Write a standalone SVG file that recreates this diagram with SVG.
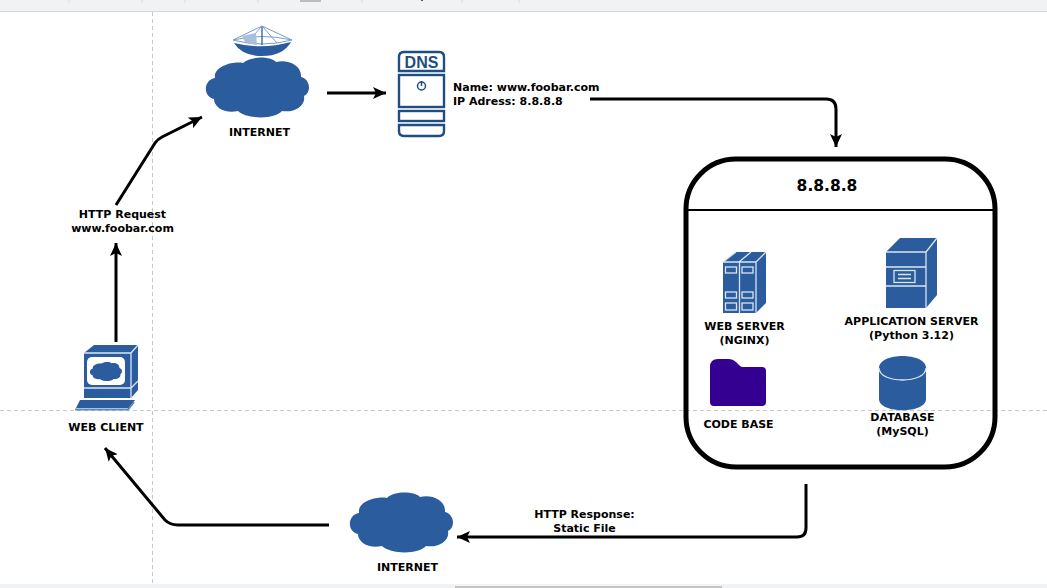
<svg xmlns="http://www.w3.org/2000/svg" width="1047" height="588" viewBox="0 0 1047 588">
<style>
text{font-family:"DejaVu Sans",Verdana,sans-serif;font-weight:bold;font-size:11px;fill:#000;text-anchor:middle}
.guide{fill:none;stroke:#c8c8c8;stroke-width:1;stroke-dasharray:4 3}
.conn{fill:none;stroke:#000;stroke-width:3;marker-end:url(#arrow)}
.blue{fill:#2a5c9e}
.line{fill:none;stroke:#dbe5f1;stroke-width:1.3}
.rib{fill:none;stroke:#7d9ccb;stroke-width:1}
.dns{fill:#fff;stroke:#1f4e82;stroke-width:2.4}
</style>
<defs>
<marker id="arrow" markerUnits="userSpaceOnUse" markerWidth="15" markerHeight="14" refX="13" refY="6" orient="auto"><path d="M0 0L13 6L0 12L3 6Z" fill="#000"/></marker>
<path id="cloud" class="blue" d="M9 20C7 8 28 3 37 5C44-2 64-2 70 4C80 1 96 6 95 19C104 21 106 34 98 38C100 48 88 55 76 53C68 62 40 61 32 53C20 56 8 50 8 41C-3 39-3 22 9 20Z"/>
</defs>
<rect width="1047" height="588" fill="#fff"/>
<g id="chrome">
<rect width="1047" height="11" fill="#f1f2f4"/>
<rect y="11" width="1047" height="1" fill="#d6d6d6"/>
<path d="M69 0v3M142 0v3M185 0v3M258 0v3M362 0v3M462 0v3M519 0v3" stroke="#dcdcdc" fill="none"/>
<rect x="300" width="21" height="2" fill="#bdbdbd"/>
<rect x="421" width="2" height="1" fill="#555"/>
<rect y="584" width="1047" height="4" fill="#f1f2f4"/>
<rect x="455" y="586" width="267" height="2" fill="#c4c4c4"/>
</g>
<g id="guides">
<path class="guide" d="M152.500 12V584"/>
<path class="guide" d="M0 410.500H1047"/>
</g>
<g id="connectors">
<path class="conn" d="M327 93H386"/>
<path class="conn" d="M590 99H826Q836 99 836 109V147"/>
<path class="conn" d="M116 342V243"/>
<path class="conn" d="M116 205L155 143Q158 139 162 137L202 117"/>
<path class="conn" d="M806 484V528Q806 537 797 537H457"/>
<path class="conn" d="M329 525H178Q170 525 165 520L105 448"/>
</g>
<g id="internet-top">
<path class="rib" d="M233 40L262 26L292 40M233 40Q262 33 292 40M262 26L247 43M262 26L277 43M233 40Q262 48 292 40"/>
<path class="blue" d="M234 43Q262 50 291 42Q283 56 262 56Q242 56 234 43Z"/>
<path d="M242 36L256 33L257 45Q248 44 245 42Z" fill="#a9bfdd"/>
<path d="M262 27V45" stroke="#2a5c9e" stroke-width="1.300" fill="none"/>
<use href="#cloud" x="206" y="58"/>
<text x="259.500" y="136">INTERNET</text>
</g>
<g id="dns">
<path class="dns" d="M399 71V57Q399 52 404 52H439Q444 52 444 57V71Z"/>
<rect class="dns" x="399" y="75" width="45" height="32"/>
<rect class="dns" x="399" y="111" width="45" height="10"/>
<path class="dns" d="M399 125H444V131Q444 136 439 136H404Q399 136 399 131Z"/>
<circle cx="421.500" cy="86" r="4" fill="none" stroke="#1f4e82" stroke-width="1.500"/>
<path d="M421.500 81V86" stroke="#1f4e82" stroke-width="1.500" fill="none"/>
<text x="421.500" y="67.500" style="font-family:'Liberation Sans',sans-serif;font-size:16px;fill:#1f4e82">DNS</text>
<text x="453" y="91" style="text-anchor:start">Name: www.foobar.com</text>
<text x="453" y="105" style="text-anchor:start">IP Adress: 8.8.8.8</text>
</g>
<g id="host">
<rect x="686" y="159" width="309" height="308" rx="50" fill="none" stroke="#000" stroke-width="5"/>
<path d="M687 210H994" stroke="#000" stroke-width="2" fill="none"/>
<text x="827" y="191" style="font-size:15.500px">8.8.8.8</text>
</g>
<g id="web-server">
<path class="blue" d="M723 262L736 252H766V303L756 313H723Z"/>
<path class="line" d="M723 262H756V313M739.500 262V313M736 252L723 262M751 252L739 262M766 252L756 262"/>
<g class="line">
<rect x="725.500" y="267" width="11" height="6"/><rect x="742" y="267" width="11" height="6"/>
<rect x="725.500" y="292" width="11" height="6"/><rect x="742" y="292" width="11" height="6"/>
<rect x="725.500" y="303" width="11" height="7"/><rect x="742" y="303" width="11" height="7"/>
</g>
<text x="744.500" y="330">WEB SERVER</text>
<text x="744.500" y="344">(NGINX)</text>
</g>
<g id="app-server">
<path class="blue" d="M886 252L900 238H937V295L926 308H886Z"/>
<path class="line" d="M886 252H926V308M926 252L937 238M886 267H926M886 286H926"/>
<rect class="line" x="894" y="270.500" width="21" height="12"/>
<path class="line" d="M898 274.500H911M898 278.500H911"/>
<text x="911.500" y="325">APPLICATION SERVER</text>
<text x="911.500" y="339">(Python 3.12)</text>
</g>
<g id="code-base">
<path d="M710 367Q710 359 718 359H729Q733 359 736 362L740 366Q741 367 743 367H762Q766 367 766 371V402Q766 406 762 406H714Q710 406 710 402Z" fill="#330091"/>
<text x="738.500" y="428">CODE BASE</text>
</g>
<g id="database">
<path class="blue" d="M879 368C879 352 926 352 926 368V399C926 414 879 414 879 399Z"/>
<path class="line" d="M879 368C879 384 926 384 926 368"/>
<text x="902.500" y="421">DATABASE</text>
<text x="902.500" y="435">(MySQL)</text>
</g>
<g id="web-client">
<path class="blue" d="M84 353L94 345H138V390L131 398H84Z"/>
<path class="line" d="M84 353H131V398M131 353L138 345M84 388H131M131 388L138 381"/>
<rect x="87" y="357" width="38" height="28" rx="5" fill="#fff"/>
<g transform="translate(90 362) scale(.31 .32)"><use href="#cloud"/></g>
<path class="blue" d="M80 400H135L129 408H76Z"/>
<path d="M75 409.500H128L134 402" fill="none" stroke="#5f86bb" stroke-width="2"/>
<text x="106" y="430.500">WEB CLIENT</text>
</g>
<g id="internet-bottom">
<use href="#cloud" x="350" y="493"/>
<text x="407.500" y="571">INTERNET</text>
</g>
<g id="labels">
<text x="122.500" y="217.500">HTTP Request</text>
<text x="122.500" y="232">www.foobar.com</text>
<text x="584.500" y="518">HTTP Response:</text>
<text x="584.500" y="532">Static File</text>
</g>
</svg>
